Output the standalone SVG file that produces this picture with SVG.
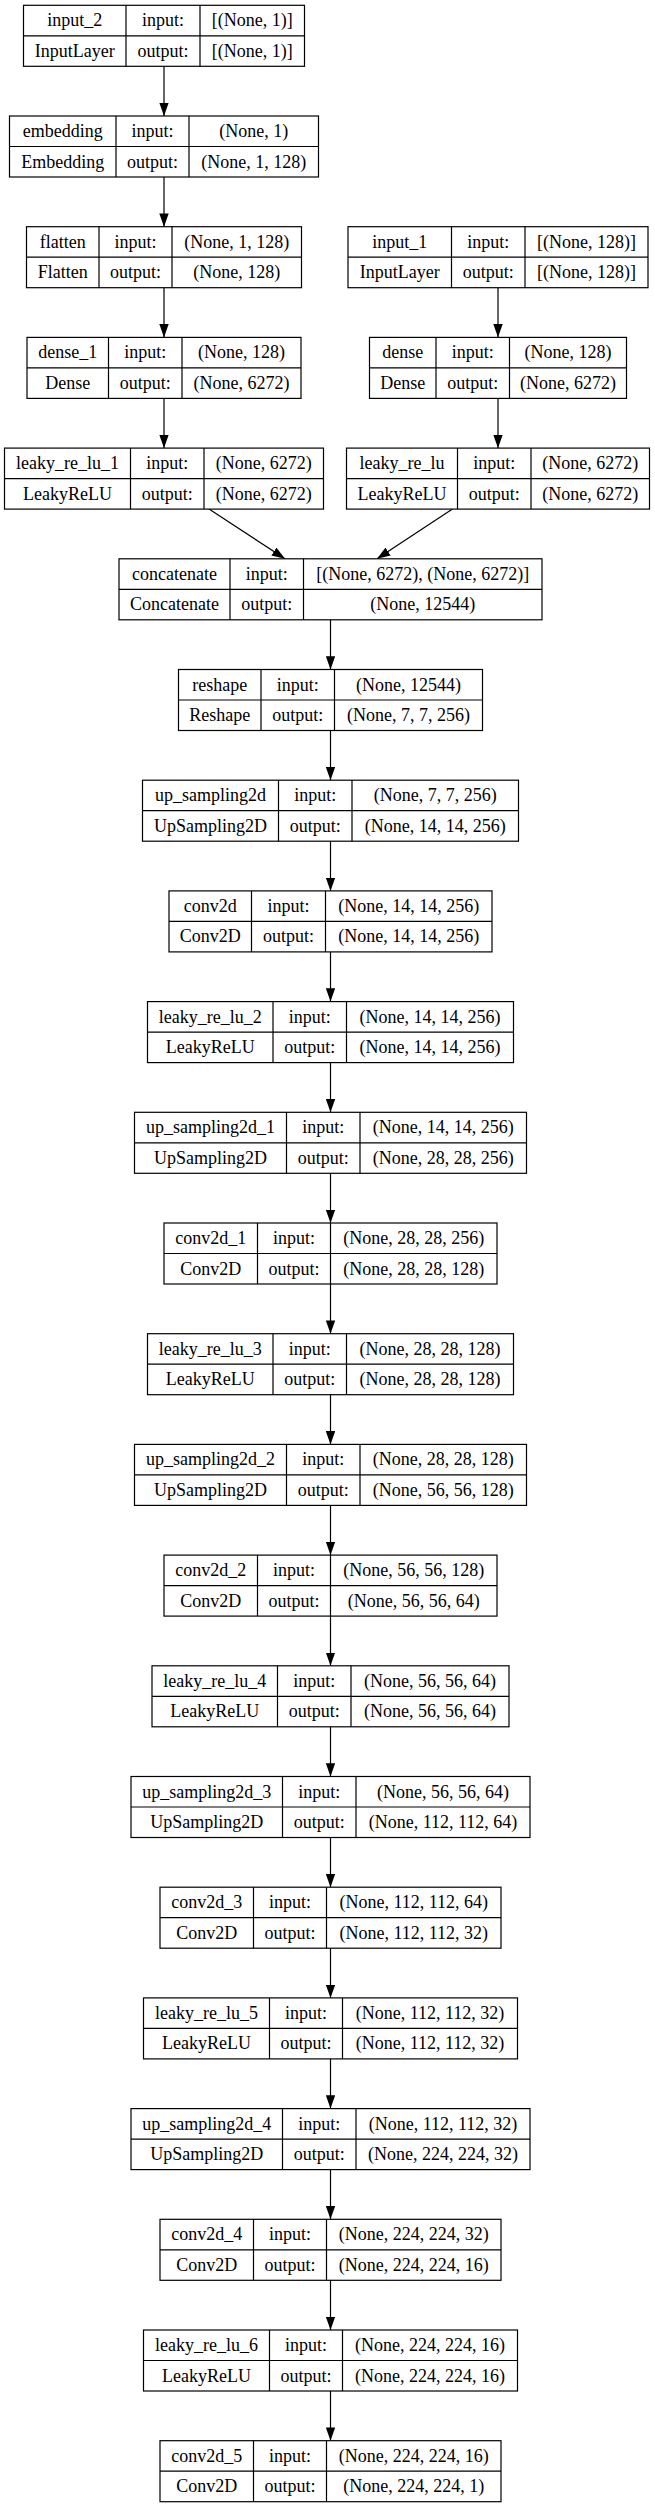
<svg xmlns="http://www.w3.org/2000/svg" width="655" height="2508" viewBox="0 0 655 2508">
<style>
.n rect{fill:#fff;stroke:#000;stroke-width:1.2}
.n path{fill:none;stroke:#000;stroke-width:1.2}
.n text{font-family:"Liberation Serif","Times New Roman",serif;font-size:18px;text-anchor:middle;fill:#000}
#edges path{fill:none;stroke:#000;stroke-width:1.2;marker-end:url(#ah)}
</style>
<defs>
<marker id="ah" viewBox="0 0 13.3 9.4" markerWidth="13.3" markerHeight="9.4" refX="13.3" refY="4.7" orient="auto" markerUnits="userSpaceOnUse"><path d="M0,0 L13.3,4.7 L0,9.4 z" fill="#000"/></marker>
</defs>
<rect width="655" height="2508" fill="#fff"/>
<g id="edges">
<path d="M164,66.3 V116"/>
<path d="M164,177 V226.7"/>
<path d="M164,287.7 V337.4"/>
<path d="M164,398.4 V448.1"/>
<path d="M498,287.7 V337.4"/>
<path d="M498,398.4 V448.1"/>
<path d="M209,509.1 L285,558.8"/>
<path d="M452.5,509.1 L377,558.8"/>
<path d="M330.5,619.8 V669.5"/>
<path d="M330.5,730.5 V780.2"/>
<path d="M330.5,841.2 V890.9"/>
<path d="M330.5,951.9 V1001.6"/>
<path d="M330.5,1062.6 V1112.3"/>
<path d="M330.5,1173.3 V1223"/>
<path d="M330.5,1284 V1333.7"/>
<path d="M330.5,1394.7 V1444.4"/>
<path d="M330.5,1505.4 V1555.1"/>
<path d="M330.5,1616.1 V1665.8"/>
<path d="M330.5,1726.8 V1776.5"/>
<path d="M330.5,1837.5 V1887.2"/>
<path d="M330.5,1948.2 V1997.9"/>
<path d="M330.5,2058.9 V2108.6"/>
<path d="M330.5,2169.6 V2219.3"/>
<path d="M330.5,2280.3 V2330"/>
<path d="M330.5,2391 V2440.7"/>
</g>
<g id="input_2" class="n"><rect x="23.5" y="5.3" width="281" height="61"/><path d="M126,5.3 V66.3 M200,5.3 V66.3 M23.5,35.8 H304.5"/>
<text x="74.75" y="26.3">input_2</text><text x="163" y="26.3">input:</text><text x="252.25" y="26.3">[(None, 1)]</text>
<text x="74.75" y="56.8">InputLayer</text><text x="163" y="56.8">output:</text><text x="252.25" y="56.8">[(None, 1)]</text></g>
<g id="embedding" class="n"><rect x="9.5" y="116" width="309" height="61"/><path d="M116,116 V177 M189,116 V177 M9.5,146.5 H318.5"/>
<text x="62.75" y="137">embedding</text><text x="152.5" y="137">input:</text><text x="253.75" y="137">(None, 1)</text>
<text x="62.75" y="167.5">Embedding</text><text x="152.5" y="167.5">output:</text><text x="253.75" y="167.5">(None, 1, 128)</text></g>
<g id="flatten" class="n"><rect x="26.5" y="226.7" width="275" height="61"/><path d="M99,226.7 V287.7 M172,226.7 V287.7 M26.5,257.2 H301.5"/>
<text x="62.75" y="247.7">flatten</text><text x="135.5" y="247.7">input:</text><text x="236.75" y="247.7">(None, 1, 128)</text>
<text x="62.75" y="278.2">Flatten</text><text x="135.5" y="278.2">output:</text><text x="236.75" y="278.2">(None, 128)</text></g>
<g id="input_1" class="n"><rect x="348" y="226.7" width="300" height="61"/><path d="M451.5,226.7 V287.7 M525,226.7 V287.7 M348,257.2 H648"/>
<text x="399.75" y="247.7">input_1</text><text x="488.25" y="247.7">input:</text><text x="586.5" y="247.7">[(None, 128)]</text>
<text x="399.75" y="278.2">InputLayer</text><text x="488.25" y="278.2">output:</text><text x="586.5" y="278.2">[(None, 128)]</text></g>
<g id="dense_1" class="n"><rect x="27" y="337.4" width="274" height="61"/><path d="M108.5,337.4 V398.4 M182,337.4 V398.4 M27,367.9 H301"/>
<text x="67.75" y="358.4">dense_1</text><text x="145.25" y="358.4">input:</text><text x="241.5" y="358.4">(None, 128)</text>
<text x="67.75" y="388.9">Dense</text><text x="145.25" y="388.9">output:</text><text x="241.5" y="388.9">(None, 6272)</text></g>
<g id="dense" class="n"><rect x="369.5" y="337.4" width="257" height="61"/><path d="M436,337.4 V398.4 M509.5,337.4 V398.4 M369.5,367.9 H626.5"/>
<text x="402.75" y="358.4">dense</text><text x="472.75" y="358.4">input:</text><text x="568" y="358.4">(None, 128)</text>
<text x="402.75" y="388.9">Dense</text><text x="472.75" y="388.9">output:</text><text x="568" y="388.9">(None, 6272)</text></g>
<g id="leaky_re_lu_1" class="n"><rect x="4.5" y="448.1" width="319" height="61"/><path d="M130.5,448.1 V509.1 M204,448.1 V509.1 M4.5,478.6 H323.5"/>
<text x="67.5" y="469.1">leaky_re_lu_1</text><text x="167.25" y="469.1">input:</text><text x="263.75" y="469.1">(None, 6272)</text>
<text x="67.5" y="499.6">LeakyReLU</text><text x="167.25" y="499.6">output:</text><text x="263.75" y="499.6">(None, 6272)</text></g>
<g id="leaky_re_lu" class="n"><rect x="346.5" y="448.1" width="303" height="61"/><path d="M457.5,448.1 V509.1 M531,448.1 V509.1 M346.5,478.6 H649.5"/>
<text x="402" y="469.1">leaky_re_lu</text><text x="494.25" y="469.1">input:</text><text x="590.25" y="469.1">(None, 6272)</text>
<text x="402" y="499.6">LeakyReLU</text><text x="494.25" y="499.6">output:</text><text x="590.25" y="499.6">(None, 6272)</text></g>
<g id="concatenate" class="n"><rect x="119" y="558.8" width="423" height="61"/><path d="M230,558.8 V619.8 M303.5,558.8 V619.8 M119,589.3 H542"/>
<text x="174.5" y="579.8">concatenate</text><text x="266.75" y="579.8">input:</text><text x="422.75" y="579.8">[(None, 6272), (None, 6272)]</text>
<text x="174.5" y="610.3">Concatenate</text><text x="266.75" y="610.3">output:</text><text x="422.75" y="610.3">(None, 12544)</text></g>
<g id="reshape" class="n"><rect x="178.5" y="669.5" width="304" height="61"/><path d="M261,669.5 V730.5 M334.5,669.5 V730.5 M178.5,700 H482.5"/>
<text x="219.75" y="690.5">reshape</text><text x="297.75" y="690.5">input:</text><text x="408.5" y="690.5">(None, 12544)</text>
<text x="219.75" y="721">Reshape</text><text x="297.75" y="721">output:</text><text x="408.5" y="721">(None, 7, 7, 256)</text></g>
<g id="up_sampling2d" class="n"><rect x="142.5" y="780.2" width="376" height="61"/><path d="M278.5,780.2 V841.2 M352,780.2 V841.2 M142.5,810.7 H518.5"/>
<text x="210.5" y="801.2">up_sampling2d</text><text x="315.25" y="801.2">input:</text><text x="435.25" y="801.2">(None, 7, 7, 256)</text>
<text x="210.5" y="831.7">UpSampling2D</text><text x="315.25" y="831.7">output:</text><text x="435.25" y="831.7">(None, 14, 14, 256)</text></g>
<g id="conv2d" class="n"><rect x="169" y="890.9" width="323" height="61"/><path d="M251.5,890.9 V951.9 M325.5,890.9 V951.9 M169,921.4 H492"/>
<text x="210.25" y="911.9">conv2d</text><text x="288.5" y="911.9">input:</text><text x="408.75" y="911.9">(None, 14, 14, 256)</text>
<text x="210.25" y="942.4">Conv2D</text><text x="288.5" y="942.4">output:</text><text x="408.75" y="942.4">(None, 14, 14, 256)</text></g>
<g id="leaky_re_lu_2" class="n"><rect x="147.5" y="1001.6" width="366" height="61"/><path d="M273,1001.6 V1062.6 M346.5,1001.6 V1062.6 M147.5,1032.1 H513.5"/>
<text x="210.25" y="1022.6">leaky_re_lu_2</text><text x="309.75" y="1022.6">input:</text><text x="430" y="1022.6">(None, 14, 14, 256)</text>
<text x="210.25" y="1053.1">LeakyReLU</text><text x="309.75" y="1053.1">output:</text><text x="430" y="1053.1">(None, 14, 14, 256)</text></g>
<g id="up_sampling2d_1" class="n"><rect x="134.5" y="1112.3" width="392" height="61"/><path d="M286.5,1112.3 V1173.3 M360,1112.3 V1173.3 M134.5,1142.8 H526.5"/>
<text x="210.5" y="1133.3">up_sampling2d_1</text><text x="323.25" y="1133.3">input:</text><text x="443.25" y="1133.3">(None, 14, 14, 256)</text>
<text x="210.5" y="1163.8">UpSampling2D</text><text x="323.25" y="1163.8">output:</text><text x="443.25" y="1163.8">(None, 28, 28, 256)</text></g>
<g id="conv2d_1" class="n"><rect x="164" y="1223" width="333" height="61"/><path d="M257.5,1223 V1284 M330.5,1223 V1284 M164,1253.5 H497"/>
<text x="210.75" y="1244">conv2d_1</text><text x="294" y="1244">input:</text><text x="413.75" y="1244">(None, 28, 28, 256)</text>
<text x="210.75" y="1274.5">Conv2D</text><text x="294" y="1274.5">output:</text><text x="413.75" y="1274.5">(None, 28, 28, 128)</text></g>
<g id="leaky_re_lu_3" class="n"><rect x="147.5" y="1333.7" width="366" height="61"/><path d="M273,1333.7 V1394.7 M346.5,1333.7 V1394.7 M147.5,1364.2 H513.5"/>
<text x="210.25" y="1354.7">leaky_re_lu_3</text><text x="309.75" y="1354.7">input:</text><text x="430" y="1354.7">(None, 28, 28, 128)</text>
<text x="210.25" y="1385.2">LeakyReLU</text><text x="309.75" y="1385.2">output:</text><text x="430" y="1385.2">(None, 28, 28, 128)</text></g>
<g id="up_sampling2d_2" class="n"><rect x="134.5" y="1444.4" width="392" height="61"/><path d="M286.5,1444.4 V1505.4 M360,1444.4 V1505.4 M134.5,1474.9 H526.5"/>
<text x="210.5" y="1465.4">up_sampling2d_2</text><text x="323.25" y="1465.4">input:</text><text x="443.25" y="1465.4">(None, 28, 28, 128)</text>
<text x="210.5" y="1495.9">UpSampling2D</text><text x="323.25" y="1495.9">output:</text><text x="443.25" y="1495.9">(None, 56, 56, 128)</text></g>
<g id="conv2d_2" class="n"><rect x="164" y="1555.1" width="333" height="61"/><path d="M257.5,1555.1 V1616.1 M330.5,1555.1 V1616.1 M164,1585.6 H497"/>
<text x="210.75" y="1576.1">conv2d_2</text><text x="294" y="1576.1">input:</text><text x="413.75" y="1576.1">(None, 56, 56, 128)</text>
<text x="210.75" y="1606.6">Conv2D</text><text x="294" y="1606.6">output:</text><text x="413.75" y="1606.6">(None, 56, 56, 64)</text></g>
<g id="leaky_re_lu_4" class="n"><rect x="152" y="1665.8" width="357" height="61"/><path d="M277.5,1665.8 V1726.8 M351,1665.8 V1726.8 M152,1696.3 H509"/>
<text x="214.75" y="1686.8">leaky_re_lu_4</text><text x="314.25" y="1686.8">input:</text><text x="430" y="1686.8">(None, 56, 56, 64)</text>
<text x="214.75" y="1717.3">LeakyReLU</text><text x="314.25" y="1717.3">output:</text><text x="430" y="1717.3">(None, 56, 56, 64)</text></g>
<g id="up_sampling2d_3" class="n"><rect x="131" y="1776.5" width="399" height="61"/><path d="M282.5,1776.5 V1837.5 M356,1776.5 V1837.5 M131,1807 H530"/>
<text x="206.75" y="1797.5">up_sampling2d_3</text><text x="319.25" y="1797.5">input:</text><text x="443" y="1797.5">(None, 56, 56, 64)</text>
<text x="206.75" y="1828">UpSampling2D</text><text x="319.25" y="1828">output:</text><text x="443" y="1828">(None, 112, 112, 64)</text></g>
<g id="conv2d_3" class="n"><rect x="160" y="1887.2" width="341" height="61"/><path d="M253.5,1887.2 V1948.2 M326.5,1887.2 V1948.2 M160,1917.7 H501"/>
<text x="206.75" y="1908.2">conv2d_3</text><text x="290" y="1908.2">input:</text><text x="413.75" y="1908.2">(None, 112, 112, 64)</text>
<text x="206.75" y="1938.7">Conv2D</text><text x="290" y="1938.7">output:</text><text x="413.75" y="1938.7">(None, 112, 112, 32)</text></g>
<g id="leaky_re_lu_5" class="n"><rect x="143.5" y="1997.9" width="374" height="61"/><path d="M269.5,1997.9 V2058.9 M342.5,1997.9 V2058.9 M143.5,2028.4 H517.5"/>
<text x="206.5" y="2018.9">leaky_re_lu_5</text><text x="306" y="2018.9">input:</text><text x="430" y="2018.9">(None, 112, 112, 32)</text>
<text x="206.5" y="2049.4">LeakyReLU</text><text x="306" y="2049.4">output:</text><text x="430" y="2049.4">(None, 112, 112, 32)</text></g>
<g id="up_sampling2d_4" class="n"><rect x="131" y="2108.6" width="399" height="61"/><path d="M282.5,2108.6 V2169.6 M356,2108.6 V2169.6 M131,2139.1 H530"/>
<text x="206.75" y="2129.6">up_sampling2d_4</text><text x="319.25" y="2129.6">input:</text><text x="443" y="2129.6">(None, 112, 112, 32)</text>
<text x="206.75" y="2160.1">UpSampling2D</text><text x="319.25" y="2160.1">output:</text><text x="443" y="2160.1">(None, 224, 224, 32)</text></g>
<g id="conv2d_4" class="n"><rect x="160" y="2219.3" width="341" height="61"/><path d="M253.5,2219.3 V2280.3 M326.5,2219.3 V2280.3 M160,2249.8 H501"/>
<text x="206.75" y="2240.3">conv2d_4</text><text x="290" y="2240.3">input:</text><text x="413.75" y="2240.3">(None, 224, 224, 32)</text>
<text x="206.75" y="2270.8">Conv2D</text><text x="290" y="2270.8">output:</text><text x="413.75" y="2270.8">(None, 224, 224, 16)</text></g>
<g id="leaky_re_lu_6" class="n"><rect x="143.5" y="2330" width="374" height="61"/><path d="M269.5,2330 V2391 M342.5,2330 V2391 M143.5,2360.5 H517.5"/>
<text x="206.5" y="2351">leaky_re_lu_6</text><text x="306" y="2351">input:</text><text x="430" y="2351">(None, 224, 224, 16)</text>
<text x="206.5" y="2381.5">LeakyReLU</text><text x="306" y="2381.5">output:</text><text x="430" y="2381.5">(None, 224, 224, 16)</text></g>
<g id="conv2d_5" class="n"><rect x="160" y="2440.7" width="341" height="61"/><path d="M253.5,2440.7 V2501.7 M326.5,2440.7 V2501.7 M160,2471.2 H501"/>
<text x="206.75" y="2461.7">conv2d_5</text><text x="290" y="2461.7">input:</text><text x="413.75" y="2461.7">(None, 224, 224, 16)</text>
<text x="206.75" y="2492.2">Conv2D</text><text x="290" y="2492.2">output:</text><text x="413.75" y="2492.2">(None, 224, 224, 1)</text></g>
</svg>
